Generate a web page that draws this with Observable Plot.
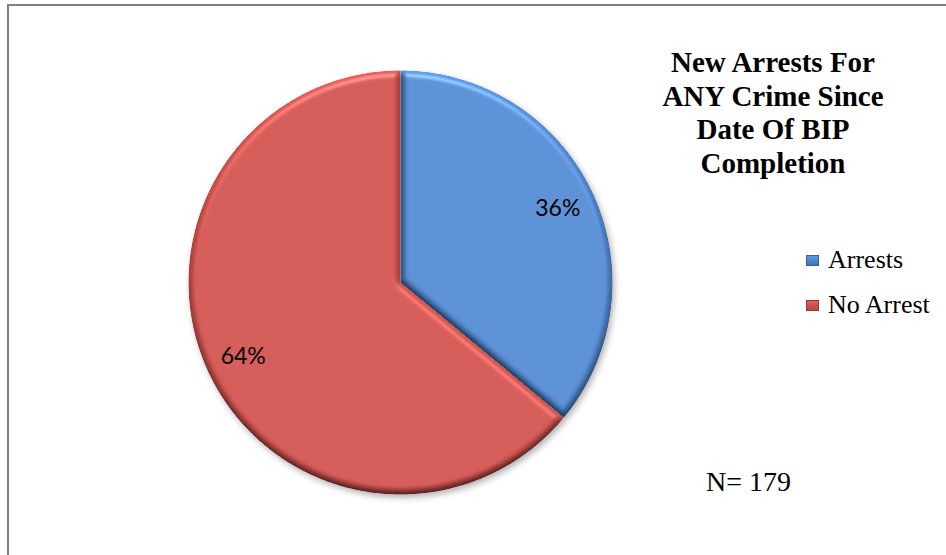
<!DOCTYPE html>
<html>
<head>
<meta charset="utf-8">
<script src="https://cdn.jsdelivr.net/npm/d3@7"></script>
<script src="https://cdn.jsdelivr.net/npm/@observablehq/plot@0.6"></script>
<style>
  html, body { margin: 0; padding: 0; background: #fff; }
  #wrap { position: relative; width: 946px; height: 555px; overflow: hidden; }
  #frame { position: absolute; left: 7px; top: 4px; right: -4px; bottom: -4px;
           border-top: 2px solid #808080; border-left: 2px solid #808080; }
  #title { position: absolute; left: 623px; top: 46px; width: 300px; text-align: center;
           font-family: "Liberation Serif", "Times New Roman", serif; font-weight: bold;
           font-size: 29px; line-height: 33.5px; color: #000; }
  .leg { position: absolute; left: 806px; font-family: "Liberation Serif", serif; font-size: 26px;
         color: #000; white-space: nowrap; line-height: 26px; }
  .sw { position: absolute; left: 0; width: 13px; height: 11px; box-sizing: border-box; }
  .leg span.t { position: absolute; left: 22px; top: 0; }
  #nlab { position: absolute; left: 706px; top: 468px; font-family: "Liberation Serif", serif;
          font-size: 28px; line-height: 28px; color: #000; white-space: nowrap; }
  #chart { position: absolute; left: 0; top: 0; }
</style>
</head>
<body>
<div id="wrap">
  <div id="frame"></div>
  <div id="chart"></div>
  <div id="title"></div>
  <div id="legend"></div>
  <div id="nlab"></div>
</div>
<script>
// ---- data ----
const categories = ["Arrests", "No Arrest"];
const percents = [36, 64];
const colors = ["#4E83C8", "#C84F4B"];
const titleLines = ["New Arrests For", "ANY Crime Since", "Date Of BIP", "Completion"];
const sampleSize = 179;

// ---- geometry from data ----
const arcs = d3.pie().sort(null).value(d => d)(percents);
const points = [];
const labels = [];
arcs.forEach((a, i) => {
  const key = categories[i];
  points.push({key, x: 0, y: 0});
  const step = Math.PI / 360;
  const n = Math.ceil((a.endAngle - a.startAngle) / step);
  for (let k = 0; k <= n; k++) {
    const t = a.startAngle + (a.endAngle - a.startAngle) * k / n;
    points.push({key, x: Math.sin(t), y: Math.cos(t)});
  }
  const mid = (a.startAngle + a.endAngle) / 2;
  labels.push({key, text: percents[i] + "%", x: 0.82 * Math.sin(mid), y: 0.82 * Math.cos(mid)});
});

const svg = Plot.plot({
  width: 946,
  height: 555,
  margin: 0,
  style: {background: "transparent", overflow: "visible"},
  x: {domain: [-1, 1], range: [188, 612], axis: null},
  y: {domain: [-1, 1], range: [494, 70], axis: null},
  color: {domain: categories, range: colors},
  marks: [
    Plot.line(points, {x: "x", y: "y", z: "key", fill: "key", stroke: "none", curve: "linear-closed"}),
    Plot.text(labels, {x: "x", y: "y", text: "text", fontSize: 23, fontFamily: "Lato, 'Open Sans', sans-serif", fill: "#000"})
  ]
});

// bevel + shadow effect
const ns = "http://www.w3.org/2000/svg";
const defs = document.createElementNS(ns, "defs");
defs.innerHTML = `
<filter id="pieFx" x="-15%" y="-15%" width="135%" height="135%" color-interpolation-filters="sRGB">
  <feGaussianBlur in="SourceAlpha" stdDeviation="3" result="blur"/>
  <feSpecularLighting in="blur" surfaceScale="3" specularConstant="0.25" specularExponent="40" lighting-color="#ffffff" result="spec">
    <feDistantLight azimuth="270" elevation="60"/>
  </feSpecularLighting>
  <feComposite in="spec" in2="SourceAlpha" operator="in" result="specIn"/>
  <feDiffuseLighting in="blur" surfaceScale="3" diffuseConstant="1" lighting-color="#ffffff" result="diff">
    <feDistantLight azimuth="270" elevation="60"/>
  </feDiffuseLighting>
  <feComposite in="SourceGraphic" in2="diff" operator="arithmetic" k1="1.15" k2="0" k3="0" k4="0" result="shaded"/>
  <feComposite in="shaded" in2="specIn" operator="arithmetic" k1="0" k2="1" k3="1" k4="0" result="lit0"/>
  <feComposite in="lit0" in2="SourceAlpha" operator="in" result="lit"/>
  <feOffset in="SourceAlpha" dx="2" dy="3" result="off"/>
  <feGaussianBlur in="off" stdDeviation="3" result="sh"/>
  <feFlood flood-color="#000" flood-opacity="0.3"/>
  <feComposite in2="sh" operator="in" result="shadow"/>
  <feMerge><feMergeNode in="shadow"/><feMergeNode in="lit"/></feMerge>
</filter>`;
svg.insertBefore(defs, svg.firstChild);
svg.querySelectorAll('g[aria-label="line"] path').forEach(p => p.setAttribute("filter", "url(#pieFx)"));

document.getElementById("chart").appendChild(svg);

// title
const title = document.getElementById("title");
titleLines.forEach(l => { const d = document.createElement("div"); d.textContent = l; title.appendChild(d); });

// legend
const legend = document.getElementById("legend");
const legTops = [247, 292];
categories.forEach((c, i) => {
  const row = document.createElement("div");
  row.className = "leg";
  row.style.top = legTops[i] + "px";
  const sw = document.createElement("div");
  sw.className = "sw";
  sw.style.top = "8px";
  sw.style.background = `linear-gradient(${d3.color(colors[i]).brighter(0.4)}, ${d3.color(colors[i]).darker(0.3)})`;
  sw.style.border = "1px solid " + d3.color(colors[i]).darker(0.8);
  const t = document.createElement("span");
  t.className = "t";
  t.textContent = c;
  row.appendChild(sw);
  row.appendChild(t);
  legend.appendChild(row);
});

document.getElementById("nlab").textContent = "N= " + sampleSize;
</script>
</body>
</html>
